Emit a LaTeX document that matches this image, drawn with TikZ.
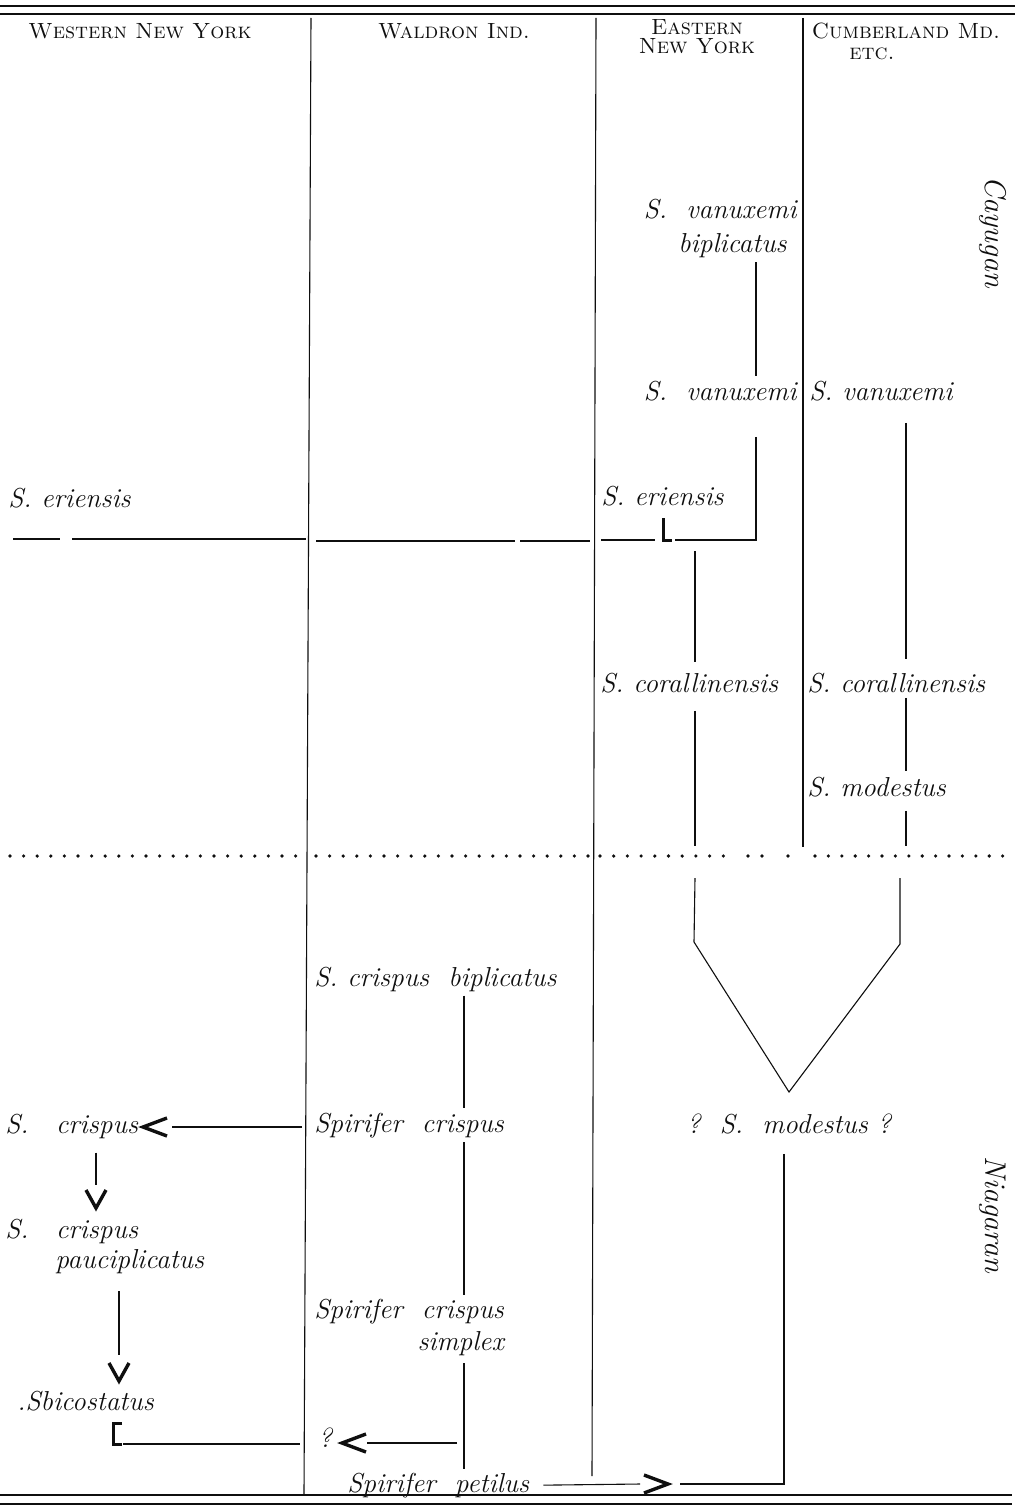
\documentclass[tikz,border=0pt]{standalone}
\usepackage{tikz}
\definecolor{ink}{gray}{0.06}
\newcommand\spfont{\fontsize{13.7}{16}\selectfont\itshape}
\newcommand\hdfont{\fontsize{11}{9.5}\selectfont\scshape}
\tikzset{
  sp/.style={font=\spfont,text=ink,inner sep=0pt},
  hd/.style={font=\hdfont,text=ink,inner sep=0pt,align=center},
  era/.style={font=\fontsize{15}{18}\selectfont\itshape,text=ink,inner sep=0pt,rotate=-90},
  rule/.style={draw=ink,line width=0.55pt},
  link/.style={rule,shorten <=2pt,shorten >=2pt},
  heavy/.style={draw=ink,line width=1.5pt},
  speck/.style={fill=ink},
  chev/.pic={\draw[ink,line width=1.7pt,line join=miter] (12pt,4.5pt) -- (0,0) -- (12pt,-4.5pt);},
  vee/.pic={\draw[ink,line width=1.7pt,line join=miter] (-5pt,9pt) -- (0,0) -- (5pt,9pt);},
}

\begin{document}
\begin{tikzpicture}[x=0.5pt,y=-0.5pt]
  \useasboundingbox (0,0) rectangle (1015,1509);
  \fill[white] (0,0) rectangle (1015,1509);
  \draw[ink,line width=1.3pt] (0,6) -- (1015,6);
  \draw[ink,line width=1pt] (0,14) -- (1015,14);
  \draw[ink,line width=1pt] (0,1495) -- (1012,1495);
  \draw[ink,line width=1.3pt] (0,1504) -- (1012,1504);
  \draw[rule] (311,18) -- (304,1494);
  \draw[rule] (596,18) -- (592,1476);
  \draw[rule] (803,18) -- (803,847);
  \node[hd] (hWest) at (140,31) {Western New York};
  \node[hd] (hWald) at (454,31) {Waldron Ind.};
  \node[hd] (hEast) at (697,37) {Eastern\\New York};
  \node[hd] (hCumb) at (906,31) {Cumberland Md.};
  \node[hd] (hEtc) at (872,54) {etc.};
  \node[era] (cay) at (993,232) {Cayugan};
  \node[era] (nia) at (993,1215) {Niagaran};
  \coordinate (lnE) at (756,0);
  \coordinate (lnC) at (695,0);
  \coordinate (lnB) at (906,0);
  \coordinate (lnB2) at (900,0);
  \coordinate (lnM) at (784,0);
  \coordinate (lnW) at (464,0);
  \coordinate (lnA) at (96,0);
  \coordinate (lnP) at (119,0);
  \coordinate (dotN) at (0,846);
  \coordinate (dotS) at (0,878);
  \coordinate (jE) at (756,540);
  \coordinate (hookE) at (663,540);
  \coordinate (vL) at (694,942);
  \coordinate (apex) at (789,1092);
  \coordinate (vR) at (900,944);
  \coordinate (petTip) at (668,1484);
  \coordinate (tipC) at (143,1127);
  \coordinate (tipQ) at (342,1443);
  \coordinate (vA) at (96,1208);
  \coordinate (vP) at (119,1381);
  \coordinate (brk) at (113,1444);
  \coordinate (brkR) at (300,1444);
  \node[sp,align=right,anchor=north east] (vanE1) at (797,199) {S.\ \ vanuxemi\\[1pt]biplicatus\hspace*{5pt}};
  \node[sp,anchor=base east] (vanE) at (797,400) {S.\ \ vanuxemi};
  \node[sp,anchor=base west] (vanC) at (809,400) {S. vanuxemi};
  \node[sp,anchor=base west] (eriW) at (8,507) {S. eriensis};
  \node[sp,anchor=base west] (eriE) at (601,505) {S. eriensis};
  \node[sp,anchor=base west] (corE) at (600,692) {S. corallinensis};
  \node[sp,anchor=base west] (corC) at (807,692) {S. corallinensis};
  \node[sp,anchor=base west] (modC) at (807,796) {S. modestus};
  \node[sp,anchor=base west] (crBi) at (314,986) {S. crispus\ \ biplicatus};
  \node[sp,anchor=base west] (crWa) at (314,1132) {Spirifer\ \ crispus};
  \node[sp,anchor=base] (modQ) at (789,1133) {?\ \ S.\ \ modestus ?};
  \node[sp,anchor=base west] (crW) at (5,1133) {S.\quad crispus};
  \node[sp,align=left,anchor=north west] (pauc) at (5,1219) {S.\quad crispus\\[-1pt]\hspace*{25pt}pauciplicatus};
  \node[sp,align=right,anchor=north west] (crSi) at (314,1299) {Spirifer\ \ crispus\\simplex};
  \node[sp,anchor=base west] (bico) at (17,1410) {.Sbicostatus};
  \node[sp,anchor=base west] (qW) at (318,1447) {?};
  \node[sp,anchor=base west] (pet) at (347,1492) {Spirifer\ \ petilus};
  \draw[link] (vanE1.south -| lnE) -- (vanE.north -| lnE);
  \draw[rule] ([yshift=-18pt]vanE.south -| lnE) -- (jE) -- ([xshift=6pt]hookE);
  \draw[heavy] ([yshift=11pt]hookE) -- (hookE) -- ([xshift=4.5pt]hookE);
  \draw[rule] (eriE.south west |- hookE) -- ([xshift=-4pt]hookE);
  \draw[rule] (13,539) -- (60,539) (72,539) -- (306,539);
  \draw[rule] (316,541) -- (515,541) (520,541) -- (590,541);
  \draw[link,shorten >=5pt] ([yshift=-3.5pt]hookE -| lnC) -- (corE.north -| lnC);
  \draw[rule] ([yshift=-9pt]corE.south -| lnC) -- (dotN -| lnC);
  \draw[rule] (dotS -| lnC) -- (vL) -- (apex) -- (vR) -- (dotS -| lnB2);
  \draw[link,shorten <=11pt,shorten >=6.5pt] (vanC.south -| lnB) -- (corC.north -| lnB);
  \draw[link,shorten <=2.5pt,shorten >=2.5pt] (corC.south -| lnB) -- (modC.north -| lnB);
  \draw[rule] ([yshift=-7pt]modC.south -| lnB) -- (dotN -| lnB);
  \draw[rule] ([yshift=-10pt]modQ.south -| lnM) -- (lnM |- petTip) -- ([xshift=6pt]petTip);
  \draw[rule] ([xshift=7pt]pet.east) -- ([xshift=-14pt]petTip);
  \pic[rotate=180] at (petTip) {chev};
  \draw[link] (crBi.south -| lnW) -- (crWa.north -| lnW);
  \draw[link] (crWa.south -| lnW) -- (crSi.north -| lnW);
  \draw[link,shorten <=3.5pt,shorten >=1.5pt] (crSi.south -| lnW) -- (pet.north -| lnW);
  \draw[rule] ([xshift=-3.5pt]lnW |- tipQ) -- ([xshift=12.5pt]tipQ);
  \pic at (tipQ) {chev};
  \draw[rule] ([xshift=-6pt]crWa.west |- tipC) -- ([xshift=14.5pt]tipC);
  \pic at (tipC) {chev};
  \draw[rule] ([yshift=-7pt]crW.south -| lnA) -- ([yshift=11.5pt]vA);
  \pic at (vA) {vee};
  \draw[rule] ([yshift=-8.5pt]pauc.south -| lnP) -- ([yshift=13pt]vP);
  \pic at (vP) {vee};
  \draw[heavy] ([xshift=4.5pt,yshift=10.5pt]brk) -- ([yshift=10.5pt]brk) -- (brk) -- ([xshift=4.5pt]brk);
  \draw[rule] ([xshift=5pt]brk) -- (brkR);
  \foreach \i in {0,...,21} \fill[speck] (10+13.6*\i,856) circle (1.8);
  \foreach \i in {0,...,20} \fill[speck] (316+13.6*\i,856) circle (1.8);
  \foreach \i in {0,...,9} \fill[speck] (600+13.7*\i,856) circle (1.8);
  \foreach \x in {748,762,788} \fill[speck] (\x,856) circle (1.8);
  \foreach \i in {0,...,14} \fill[speck] (815+13.4*\i,856) circle (1.8);
\end{tikzpicture}
\end{document}
